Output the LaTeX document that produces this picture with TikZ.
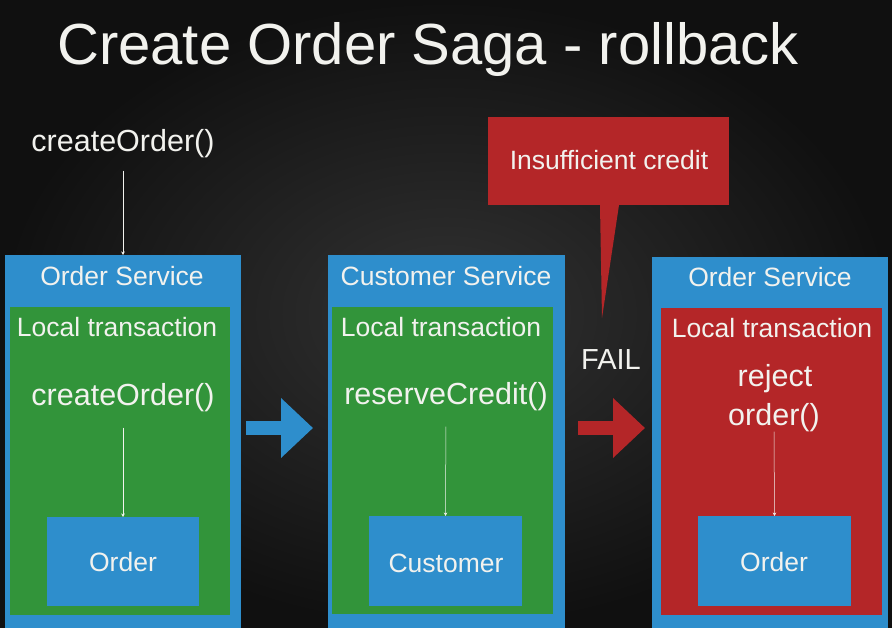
\documentclass[tikz,border=0pt]{standalone}
\usepackage{fontspec}
\setmainfont{Liberation Sans}
\usepackage{xcolor}
\usetikzlibrary{arrows.meta}

\definecolor{sagablue}{RGB}{46,142,204}
\definecolor{sagagreen}{RGB}{50,148,58}
\definecolor{sagared}{RGB}{180,38,40}
\definecolor{bgdark}{RGB}{16,16,16}
\definecolor{bglight}{RGB}{50,50,50}
\definecolor{txt}{RGB}{242,242,238}

\tikzset{
	panel/.style={inner sep=0pt, outer sep=0pt},
	lbl/.style={text=txt, inner sep=0pt, anchor=base, font=\fontsize{26.5}{30}\selectfont},
	meth/.style={lbl, font=\fontsize{30.5}{36}\selectfont},
	call/.style={draw=txt, line width=0.5pt, -{Stealth[length=3.5pt,width=3.5pt]}},
	flow/.style={line width=14pt, -{Triangle[length=32pt,width=58pt]}}
}

\begin{document}
\begin{tikzpicture}[x=1pt,y=-1pt]
		\useasboundingbox (0,0) rectangle (892,628);
		\shade[inner color=bglight, outer color=bgdark] (0,0) rectangle (892,628);

		% title
		\node[text=txt, inner sep=0pt, anchor=base west, font=\fontsize{58}{64}\selectfont] (title) at (57,65) {Create Order Saga - rollback};

		% first service
		\node[lbl, font=\fontsize{30.5}{36}\selectfont] (start) at (123,152) {createOrder()};
		\node[panel, fill=sagablue, minimum width=236pt, minimum height=373pt] (os1) at (123,441.5) {};
		\node[panel, fill=sagagreen, minimum width=220pt, minimum height=308pt] (lt1) at (120,461) {};
		\node[panel, fill=sagablue, minimum width=152pt, minimum height=89pt] (ord1) at (123,561.5) {};
		\node[lbl] (os1t) at (122,286) {Order Service};
		\node[lbl] (lt1t) at (117,337) {Local transaction};
		\node[meth] (m1) at (123,406) {createOrder()};
		\node[lbl] (ord1t) at (123,571) {Order};

		% second service
		\node[panel, fill=sagablue, minimum width=237pt, minimum height=373pt] (cs) at (446.5,441.5) {};
		\node[panel, fill=sagagreen, minimum width=221pt, minimum height=307pt] (lt2) at (442.5,460.5) {};
		\node[panel, fill=sagablue, minimum width=153pt, minimum height=90pt] (cust) at (445.5,561) {};
		\node[lbl] (cst) at (446,286) {Customer Service};
		\node[lbl] (lt2t) at (441,337) {Local transaction};
		\node[meth] (m2) at (446,405) {reserveCredit()};
		\node[lbl] (custt) at (446,572) {Customer};

		% compensating service
		\node[panel, fill=sagablue, minimum width=236pt, minimum height=371pt] (os2) at (770,442.5) {};
		\node[panel, fill=sagared, minimum width=221pt, minimum height=307pt] (lt3) at (771.5,461.5) {};
		\node[panel, fill=sagablue, minimum width=153pt, minimum height=90pt] (ord2) at (774.5,561) {};
		\node[lbl] (os2t) at (770,287) {Order Service};
		\node[lbl] (lt3t) at (772,338) {Local transaction};
		\node[meth] (m3a) at (775,387) {reject};
		\node[meth] (m3) at (774,425) {order()};
		\node[lbl] (ord2t) at (774,571) {Order};

		% failure note
		\node[panel, fill=sagared, minimum width=241pt, minimum height=88pt] (note) at (608.5,161) {};
		\node[lbl] (notet) at (609,170) {Insufficient credit};
		\coordinate (tip) at (602,318);
		\fill[sagared] ([xshift=-8.5pt]note.south) -- ([xshift=10.5pt]note.south) -- (tip) -- cycle;
		\node[meth, font=\fontsize{29}{34}\selectfont] (fail) at (611,370) {FAIL};

		% calls
		\draw[call, shorten <=12pt] (start.south) -- (start.south |- os1.north);
		\draw[call, shorten <=15pt] (m1.south) -- (ord1.north);
		\draw[call, shorten <=15pt] (m2.south) -- (cust.north);
		\draw[call] (m3.south) -- (ord2.north);

		% saga steps
		\coordinate (step) at (0,428);
		\draw[flow, sagablue, shorten <=5pt, shorten >=15pt] (os1.east |- step) -- (cs.west |- step);
		\draw[flow, sagared, shorten <=13pt, shorten >=7pt] (cs.east |- step) -- (os2.west |- step);
\end{tikzpicture}
\end{document}
